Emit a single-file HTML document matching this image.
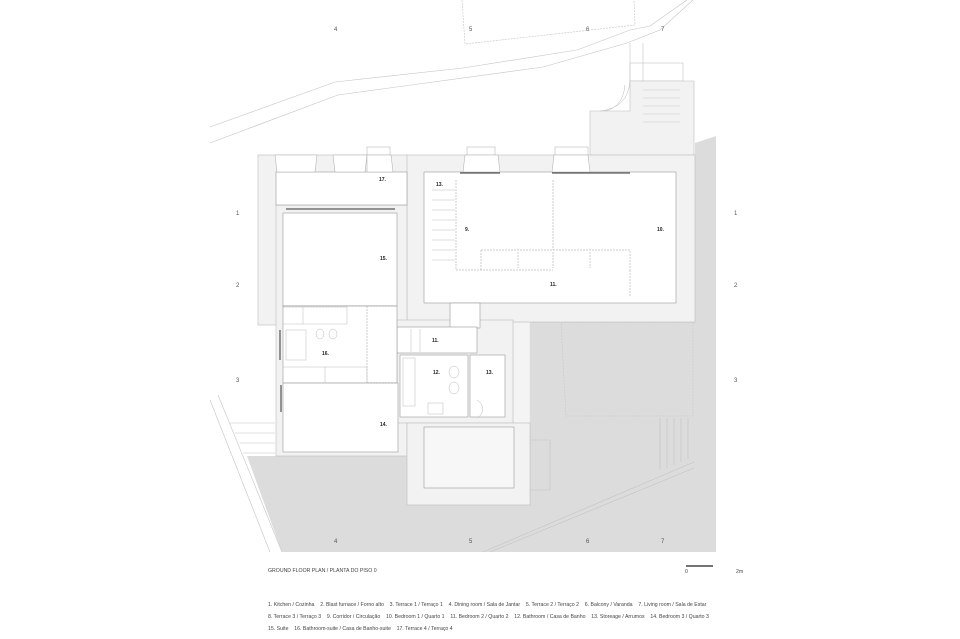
<!DOCTYPE html>
<html><head><meta charset="utf-8"><style>
body{margin:0;background:#fff;width:960px;height:639px;overflow:hidden;font-family:"Liberation Sans",sans-serif}
svg{position:absolute;left:0;top:0}
.t{font-size:5px;font-weight:bold;fill:#222}
.g{font-size:6px;fill:#555}
.l{font-size:5.2px;fill:#444}
</style></head><body>
<svg width="960" height="639" viewBox="0 0 960 639">
<!-- grey terrain -->
<polygon points="695,143 716,136 716,552 282,552 247,456 407,456 407,505 530,505 530,320 695,320" fill="#dcdcdc"/>
<rect x="513" y="322" width="17" height="101" fill="#f4f4f4" stroke="#ddd" stroke-width="0.5"/>
<polygon points="561,322 693,322 693,416 566,416" fill="none" stroke="#c8c8c8" stroke-width="0.6" stroke-dasharray="2,1"/>
<g stroke="#c4c4c4" stroke-width="0.6" fill="none">
<line x1="660" y1="418" x2="660" y2="470"/><line x1="667" y1="418" x2="667" y2="468"/><line x1="674" y1="418" x2="674" y2="465"/><line x1="681" y1="418" x2="681" y2="462"/><line x1="688" y1="418" x2="688" y2="459"/>
<polyline points="530,440 550,440 550,490 530,490"/>
<line x1="483" y1="552" x2="694" y2="462"/><line x1="490" y1="552" x2="694" y2="468"/>
</g>
<!-- terrain lines top -->
<g stroke="#c4c4c4" stroke-width="0.6" fill="none">
<polyline points="210,127 335,82 463,68 577,50 630,30 650,26 687,0"/>
<polyline points="210,143 338,95 543,67 627,43 660,30 693,0"/>
<polyline points="462,0 465,44 635,25 634,0" stroke-dasharray="2,1"/>
<line x1="630" y1="43" x2="630" y2="81"/><line x1="643" y1="43" x2="643" y2="81"/>
<rect x="630" y="63" width="53" height="18"/>
<line x1="210" y1="400" x2="270" y2="552"/><line x1="218" y1="395" x2="282" y2="552"/>
<line x1="230" y1="423" x2="275" y2="423"/><line x1="235" y1="433" x2="275" y2="433"/><line x1="240" y1="443" x2="275" y2="443"/><line x1="243" y1="453" x2="275" y2="453"/>
</g>
<!-- walls (light fill) -->
<g fill="#f2f2f2" stroke="#bdbdbd" stroke-width="0.6">
<polygon points="590,111 630,111 630,81 694,81 694,155 590,155"/>
<rect x="258" y="155" width="150" height="170"/>
<rect x="407" y="155" width="288" height="167"/>
<rect x="276" y="205" width="131" height="251"/>
<rect x="397" y="320" width="116" height="103"/>
<rect x="407" y="423" width="123" height="82"/>
</g>
<path d="M600,111 Q628,108 630,81 M605,111 Q623,107 625,85" stroke="#bbb" stroke-width="0.5" fill="none"/>
<g stroke="#ccc" stroke-width="0.5"><line x1="643" y1="90" x2="680" y2="90"/><line x1="643" y1="98" x2="680" y2="98"/><line x1="643" y1="106" x2="680" y2="106"/><line x1="643" y1="114" x2="680" y2="114"/><line x1="643" y1="122" x2="680" y2="122"/></g>
<!-- rooms -->
<g fill="#fff" stroke="#999" stroke-width="0.6">
<rect x="276" y="172" width="131" height="33"/>
<rect x="283" y="213" width="114" height="93"/>
<rect x="424" y="172" width="252" height="131"/>
<rect x="450" y="303" width="30" height="25"/>
<rect x="397" y="327" width="80" height="26"/>
<rect x="400" y="355" width="68" height="62"/>
<rect x="470" y="355" width="35" height="62"/>
<rect x="283" y="306" width="114" height="77"/>
<rect x="283" y="383" width="115" height="69"/>
<rect x="424" y="427" width="90" height="61" fill="#f7f7f7"/>
</g>
<!-- window blocks top -->
<g fill="#fff" stroke="#aaa" stroke-width="0.5">
<polygon points="275,155 317,155 315,172 277,172"/><polygon points="333,155 367,155 365,172 335,172"/>
<rect x="367" y="147" width="23" height="8"/><polygon points="367,155 391,155 393,172 367,172"/>
<rect x="467" y="147" width="28" height="8"/><polygon points="465,155 498,155 500,172 463,172"/>
<rect x="555" y="147" width="33" height="8"/><polygon points="554,155 588,155 590,172 552,172"/>
</g>
<g stroke="#333" stroke-width="1"><line x1="460" y1="173" x2="500" y2="173"/><line x1="552" y1="173" x2="630" y2="173"/><line x1="286" y1="209" x2="395" y2="209"/><line x1="280" y1="330" x2="280" y2="360"/><line x1="281" y1="385" x2="281" y2="412"/></g>
<!-- interior -->
<g stroke="#999" stroke-width="0.5" fill="none" stroke-dasharray="2,1">
<polyline points="456,180 456,270 553,270"/>
<line x1="553" y1="180" x2="553" y2="250"/>
<polyline points="481,250 630,250 630,270"/>
<line x1="481" y1="250" x2="481" y2="270"/>
<line x1="518" y1="252" x2="518" y2="268"/><line x1="553" y1="252" x2="553" y2="268"/><line x1="590" y1="252" x2="590" y2="268"/>
<line x1="630" y1="270" x2="630" y2="296"/>
<line x1="283" y1="306" x2="397" y2="306"/>
<line x1="283" y1="383" x2="397" y2="383"/>
<line x1="367" y1="306" x2="367" y2="383"/>
</g>
<g stroke="#bbb" stroke-width="0.5" fill="none">
<rect x="283" y="307" width="64" height="17"/><line x1="303" y1="307" x2="303" y2="324"/>
<rect x="286" y="330" width="20" height="30"/><rect x="283" y="367" width="84" height="16"/><line x1="325" y1="367" x2="325" y2="383"/>
<rect x="403" y="358" width="12" height="48"/><rect x="428" y="403" width="15" height="11"/>
<ellipse cx="454" cy="372" rx="5" ry="6"/><ellipse cx="454" cy="388" rx="5" ry="6"/>
<ellipse cx="320" cy="334" rx="4" ry="5"/><ellipse cx="333" cy="334" rx="4" ry="5"/>
<path d="M477,400 A10,10 0 0 1 477,418"/>
<line x1="432" y1="190" x2="455" y2="190"/><line x1="432" y1="200" x2="455" y2="200"/><line x1="432" y1="210" x2="455" y2="210"/><line x1="432" y1="220" x2="455" y2="220"/><line x1="432" y1="230" x2="455" y2="230"/><line x1="432" y1="240" x2="455" y2="240"/><line x1="432" y1="250" x2="455" y2="250"/><line x1="432" y1="260" x2="455" y2="260"/>
<line x1="411" y1="329" x2="411" y2="352"/><line x1="420" y1="329" x2="420" y2="352"/>
</g>
<!-- labels -->
<text class="t" x="379" y="181">17.</text>
<text class="t" x="380" y="260">15.</text>
<text class="t" x="436" y="186">13.</text>
<text class="t" x="465" y="231">9.</text>
<text class="t" x="657" y="231">10.</text>
<text class="t" x="550" y="286">11.</text>
<text class="t" x="432" y="342">11.</text>
<text class="t" x="322" y="355">16.</text>
<text class="t" x="433" y="374">12.</text>
<text class="t" x="486" y="374">13.</text>
<text class="t" x="380" y="426">14.</text>
<g class="g"><text x="236" y="215">1</text><text x="236" y="287">2</text><text x="236" y="382">3</text>
<text x="734" y="215">1</text><text x="734" y="287">2</text><text x="734" y="382">3</text>
<text x="334" y="543">4</text><text x="469" y="543">5</text><text x="586" y="543">6</text><text x="661" y="543">7</text>
<text x="334" y="31">4</text><text x="469" y="31">5</text><text x="586" y="31">6</text><text x="661" y="31">7</text></g>
<text class="l" x="268" y="572">GROUND FLOOR PLAN / PLANTA DO PISO 0</text>
<line x1="686" y1="566" x2="713" y2="566" stroke="#222" stroke-width="1.2"/>
<text class="l" x="685" y="573">0</text><text class="l" x="736" y="573">2m</text>
<text class="l" x="268" y="606">1. Kitchen / Cozinha &#160;&#160; 2. Blast furnace / Forno alto &#160;&#160; 3. Terrace 1 / Terraço 1 &#160;&#160; 4. Dining room / Sala de Jantar &#160;&#160; 5. Terrace 2 / Terraço 2 &#160;&#160; 6. Balcony / Varanda &#160;&#160; 7. Living room / Sala de Estar</text>
<text class="l" x="268" y="618">8. Terrace 3 / Terraço 3 &#160;&#160; 9. Corridor / Circulação &#160;&#160; 10. Bedroom 1 / Quarto 1 &#160;&#160; 11. Bedroom 2 / Quarto 2 &#160;&#160; 12. Bathroom / Casa de Banho &#160;&#160; 13. Storeage / Arrumos &#160;&#160; 14. Bedroom 3 / Quarto 3</text>
<text class="l" x="268" y="630">15. Suite &#160;&#160; 16. Bathroom-suite / Casa de Banho-suite &#160;&#160; 17. Terrace 4 / Terraço 4</text>
</svg>
</body></html>
